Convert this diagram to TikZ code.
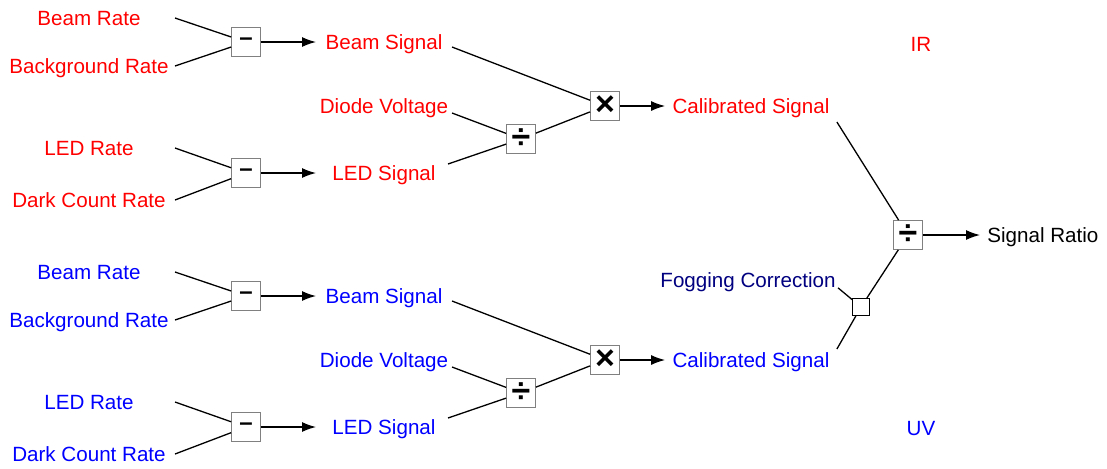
\documentclass[tikz,border=0pt]{standalone}
\usepackage{fontspec}
\setmainfont{Liberation Sans}
\usetikzlibrary{arrows.meta}

\definecolor{fogblue}{RGB}{0,0,128}

\begin{document}
\begin{tikzpicture}[x=0.5pt, y=-0.5pt, >={Latex[length=7pt, width=5pt]},
    font=\fontsize{10.3}{12}\selectfont,
    txt/.style={inner sep=0pt, text height=7.4pt, text depth=0pt},
    ent/.style={txt, minimum width=80pt, outer sep=3pt},
    sig/.style={txt, minimum width=67pt, outer sep=0.5pt},
    cal/.style={txt, minimum width=85.5pt},
    op/.style={draw=gray, fill=white, text=black, minimum size=14.5pt, inner sep=0pt,
        font=\fontsize{17}{17}\selectfont\bfseries},
    fio/.style={line width=0.65pt}]

    \useasboundingbox (0,0) rectangle (1107,468);

    % os dois ramos: IR em cima, UV embaixo
    \foreach \g/\cor/\dy in {ir/red/0, uv/blue/254} {
    \begin{scope}[shift={(0,\dy)}, every node/.append style={text=\cor}]
        % sinal do feixe
        \node[ent] (br\g) at (89,18) {Beam Rate};
        \node[ent] (bg\g) at (89,66) {Background Rate};
        \node[op] (sb\g) at (246,42) {\fontsize{12}{12}\selectfont\bfseries –};
        \node[sig] (bs\g) at (384,42) {Beam Signal};

        % sinal do LED
        \node[ent] (lr\g) at (89,148) {LED Rate};
        \node[ent] (dc\g) at (89,200) {Dark Count Rate};
        \node[op] (sl\g) at (246,173) {\fontsize{12}{12}\selectfont\bfseries –};
        \node[sig] (ls\g) at (384,173) {LED Signal};

        % calibracao
        \node[sig] (dv\g) at (384,106) {Diode Voltage};
        \node[op] (dz\g) at (521,139) {÷};
        \node[op] (mx\g) at (605,106) {×};
        \node[cal] (cs\g) at (751,106) {Calibrated Signal};

        \draw[fio] (br\g.east) -- (sb\g);
        \draw[fio] (bg\g.east) -- (sb\g);
        \draw[fio, ->] (sb\g) -- (bs\g);
        \draw[fio] (lr\g.east) -- (sl\g);
        \draw[fio] (dc\g.east) -- (sl\g);
        \draw[fio, ->] (sl\g) -- (ls\g);

        \draw[fio] ([yshift=-2.5pt]bs\g.east) -- (mx\g);
        \draw[fio] ([yshift=-3.5pt]dv\g.east) -- (dz\g);
        \draw[fio] ([xshift=-2pt, yshift=4.5pt]ls\g.east) -- (dz\g);
        \draw[fio] (dz\g) -- (mx\g);
        \draw[fio, ->] (mx\g) -- (cs\g);
    \end{scope}
    }

    % razao final
    \node[op] (rz) at (908,235) {÷};
    \node[txt, inner xsep=3.5pt, anchor=west] (sr) at (980,235) {Signal Ratio};
    \node[txt, text=fogblue] (fc) at (748,280) {Fogging Correction};
    \node[draw, fill=white, minimum size=8.5pt, inner sep=0pt] (fz) at (861,307) {};
    \node[txt, red] (ir) at (921,44) {IR};
    \node[txt, blue] (uv) at (921,428) {UV};

    \draw[fio, ->] (rz) -- (sr);
    \draw[fio] ([yshift=-8pt]csir.east) -- (rz);
    \draw[fio] ([xshift=1pt]fc.south east) -- (fz);
    \draw[fio] ([yshift=5.5pt]csuv.east) -- (fz);
    \draw[fio] (fz) -- (rz);

\end{tikzpicture}
\end{document}
